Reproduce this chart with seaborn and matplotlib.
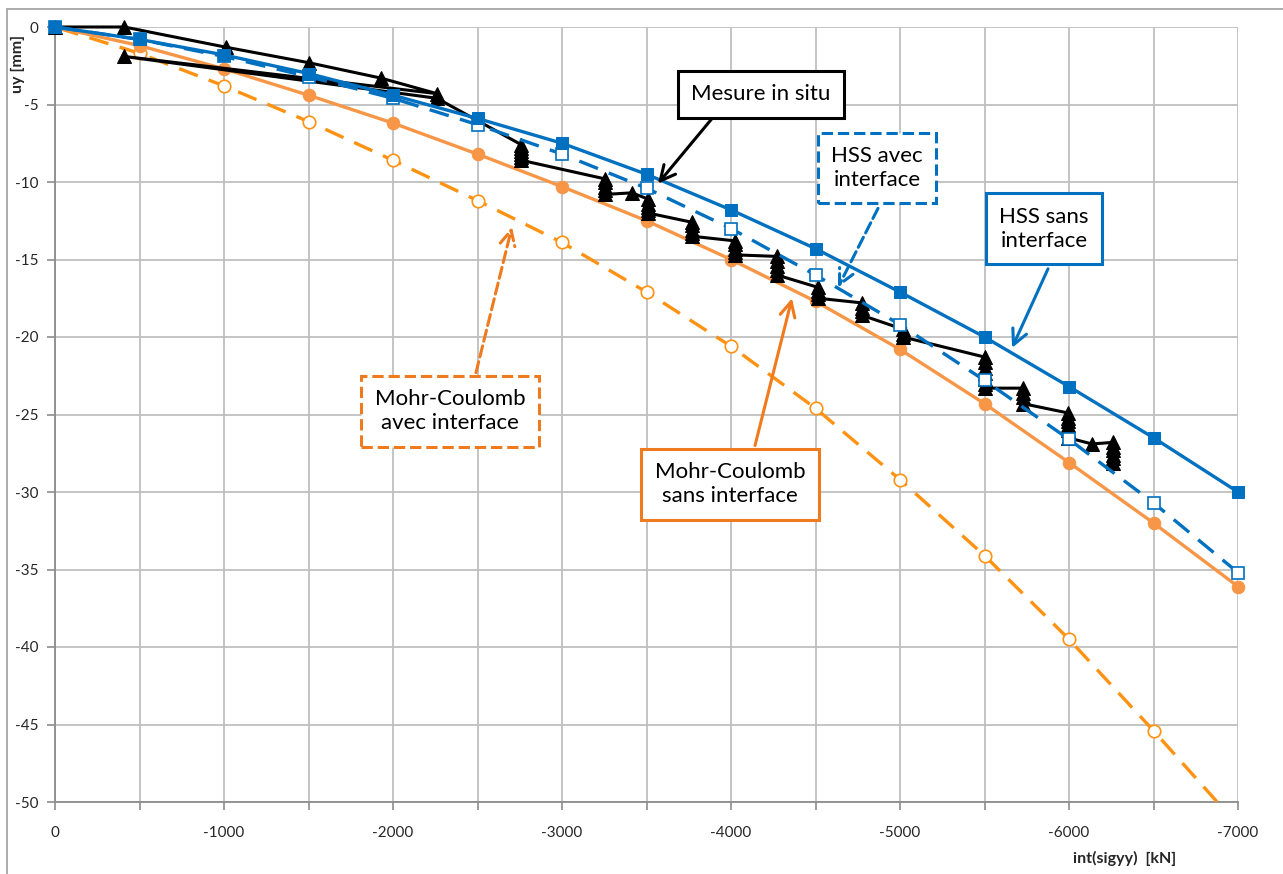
import numpy as np
import pandas as pd
import matplotlib
matplotlib.use("Agg")
import matplotlib.pyplot as plt
import seaborn as sns
from matplotlib.lines import Line2D

sns.set_theme(style="white")
plt.rcParams["font.family"] = ["Lato", "DejaVu Sans"]

# Model curves: applied load int(sigyy) [kN] against settlement uy [mm]
load_model = [0, -500, -1000, -1500, -2000, -2500, -3000, -3500, -4000,
              -4500, -5000, -5500, -6000, -6500, -7000]
hss_sans = [0, -0.8, -1.8, -3.0, -4.4, -5.9, -7.5, -9.5, -11.8,
            -14.3, -17.1, -20.0, -23.2, -26.5, -30.0]
hss_avec = [0, -0.8, -1.9, -3.2, -4.6, -6.3, -8.2, -10.4, -13.0,
            -16.0, -19.2, -22.8, -26.6, -30.7, -35.2]
mc_sans = [0, -1.2, -2.7, -4.4, -6.2, -8.2, -10.3, -12.5, -15.0,
           -17.7, -20.8, -24.3, -28.1, -32.0, -36.1]
mc_avec = [0, -1.7, -3.8, -6.1, -8.6, -11.2, -13.9, -17.1, -20.6,
           -24.6, -29.2, -34.1, -39.5, -45.4, -51.5]

# In-situ measurements (load steps with creep readings at constant load)
load_mesure = [0, -410, -1010, -1500, -1930, -2260, -410, -2260,
               -2760, -2760, -2760, -2760, -2760, -2760,
               -3255, -3255, -3255, -3255, -3255, -3414,
               -3509, -3509, -3509, -3509, -3509,
               -3770, -3770, -3770, -3770, -3770,
               -4024, -4024, -4024, -4024, -4024,
               -4272, -4272, -4272, -4272, -4272,
               -4515, -4515, -4515, -4515,
               -4775, -4775, -4775, -4775,
               -5018, -5018, -5018,
               -5503, -5503, -5503, -5503, -5503, -5503, -5503,
               -5728, -5728, -5728, -5728,
               -5994, -5994, -5994, -5994, -5994, -5994,
               -6136,
               -6260, -6260, -6260, -6260, -6260, -6260]
uy_mesure = [0, 0.0, -1.3, -2.3, -3.3, -4.3, -1.9, -4.6,
             -7.6, -7.8, -8.0, -8.2, -8.4, -8.6,
             -9.8, -10.0, -10.3, -10.5, -10.8, -10.7,
             -11.1, -11.4, -11.6, -11.8, -12.0,
             -12.6, -12.8, -13.1, -13.3, -13.5,
             -13.8, -14.0, -14.3, -14.5, -14.7,
             -14.8, -15.1, -15.4, -15.7, -16.0,
             -16.8, -17.0, -17.2, -17.5,
             -17.8, -18.1, -18.3, -18.6,
             -19.5, -19.8, -20.0,
             -21.3, -21.6, -22.0, -22.3, -22.7, -23.0, -23.3,
             -23.3, -23.6, -23.9, -24.3,
             -24.9, -25.2, -25.4, -25.7, -26.0, -26.5,
             -26.9,
             -26.8, -27.1, -27.3, -27.6, -27.8, -28.1]

x_ticks = [0, -1000, -2000, -3000, -4000, -5000, -6000, -7000]
y_ticks = [0, -5, -10, -15, -20, -25, -30, -35, -40, -45, -50]

BLUE = "#0070C0"
ORANGE = "#F79646"
ORANGE_DASH = "#FF9212"
ORANGE_NOTE = "#F07A1E"
DASH = (0, (6, 3.5))

W, H = 1283, 874
fig = plt.figure(figsize=(W / 100, H / 100), dpi=100)
ax = fig.add_axes([55 / W, 1 - 802 / H, (1238 - 55) / W, (802 - 27) / H])

df_model = pd.DataFrame({"load": load_model, "hss_sans": hss_sans,
                         "hss_avec": hss_avec, "mc_sans": mc_sans,
                         "mc_avec": mc_avec})
df_mes = pd.DataFrame({"load": load_mesure, "uy": uy_mesure})

sns.lineplot(data=df_model, x="load", y="mc_avec", ax=ax, color=ORANGE_DASH,
             lw=2.4, linestyle=DASH, marker="o",
             markersize=9, markerfacecolor="white", markeredgecolor=ORANGE_DASH,
             markeredgewidth=1.2, zorder=3)
sns.lineplot(data=df_model, x="load", y="mc_sans", ax=ax, color=ORANGE,
             lw=2.4, marker="o", markersize=9, markerfacecolor=ORANGE,
             markeredgecolor=ORANGE, zorder=3, clip_on=False)
sns.lineplot(data=df_mes, x="load", y="uy", ax=ax, sort=False, estimator=None,
             color="black", lw=2.2, marker="^", markersize=10,
             markerfacecolor="black", markeredgecolor="black", zorder=4,
             clip_on=False)
sns.lineplot(data=df_model, x="load", y="hss_avec", ax=ax, color=BLUE,
             lw=2.4, linestyle=DASH, marker="s", markersize=9,
             markerfacecolor="white", markeredgecolor=BLUE,
             markeredgewidth=1.2, zorder=5, clip_on=False)
sns.lineplot(data=df_model, x="load", y="hss_sans", ax=ax, color=BLUE,
             lw=2.4, marker="s", markersize=9, markerfacecolor=BLUE,
             markeredgecolor=BLUE, zorder=6, clip_on=False)

ax.set_xlim(0, -7000)
ax.set_ylim(-50, 0)
ax.set_xticks(x_ticks)
ax.set_xticks(np.arange(0, -7001, -500), minor=True)
ax.set_yticks(y_ticks)
ax.set_xticklabels([str(v) for v in x_ticks], fontsize=11)
ax.set_yticklabels([str(v) for v in y_ticks], fontsize=11)
ax.grid(True, which="both", axis="x", color="#BFBFBF", lw=1.3)
ax.grid(True, which="major", axis="y", color="#BFBFBF", lw=1.3)
ax.set_axisbelow(True)
for s in ["top", "right"]:
    ax.spines[s].set_visible(False)
for s in ["left", "bottom"]:
    ax.spines[s].set_color("#8C8C8C")
    ax.spines[s].set_linewidth(1.3)
ax.tick_params(axis="x", which="both", bottom=True, length=6, color="#8C8C8C",
               width=1.2, pad=11)
ax.tick_params(axis="y", which="major", left=True, length=6, color="#8C8C8C",
               width=1.2, pad=6)
ax.set_xlabel("")
ax.set_ylabel("")

fig.text(18 / W, 1 - 64 / H, "uy [mm]", rotation=90, ha="center", va="center",
         fontsize=11.5, fontweight="bold")
fig.text(1125 / W, 1 - 858 / H, "int(sigyy)  [kN]", ha="center", va="center",
         fontsize=11.5, fontweight="bold")

# Chart frame (left and top edges)
fig.add_artist(Line2D([7 / W, 7 / W], [0, 1 - 9 / H], transform=fig.transFigure,
                      color="#A6A6A6", lw=1.3))
fig.add_artist(Line2D([7 / W, 1], [1 - 9 / H, 1 - 9 / H], transform=fig.transFigure,
                      color="#A6A6A6", lw=1.3))


def callout(text, center, tip, start, color, ls):
    ax.text(center[0], center[1], text, ha="center", va="center", fontsize=16,
            color="black", zorder=10, linespacing=1.25,
            bbox=dict(boxstyle="square,pad=0.6", fc="white", ec=color, lw=2.2,
                      ls=ls))
    ax.annotate("", xy=tip, xytext=start, zorder=9,
                arrowprops=dict(arrowstyle="->,head_length=0.9,head_width=0.45",
                                color=color, lw=2.2, ls=ls,
                                shrinkA=0, shrinkB=0))


callout("Mesure in situ", (-4178, -4.35), (-3568, -10.1), (-3888, -5.9),
        "black", "-")
callout("HSS avec\ninterface", (-4864, -9.1), (-4633, -16.8), (-4870, -11.7),
        BLUE, "--")
callout("HSS sans\ninterface", (-5852, -13.0), (-5663, -20.7), (-5876, -15.6),
        BLUE, "-")
callout("Mohr-Coulomb\nsans interface", (-3994, -29.5), (-4361, -17.5),
        (-4142, -27.0), ORANGE_NOTE, "-")
callout("Mohr-Coulomb\navec interface", (-2337, -24.8), (-2704, -12.9),
        (-2491, -22.3), ORANGE_NOTE, "--")

fig.savefig("out.png", dpi=100, facecolor="white")
